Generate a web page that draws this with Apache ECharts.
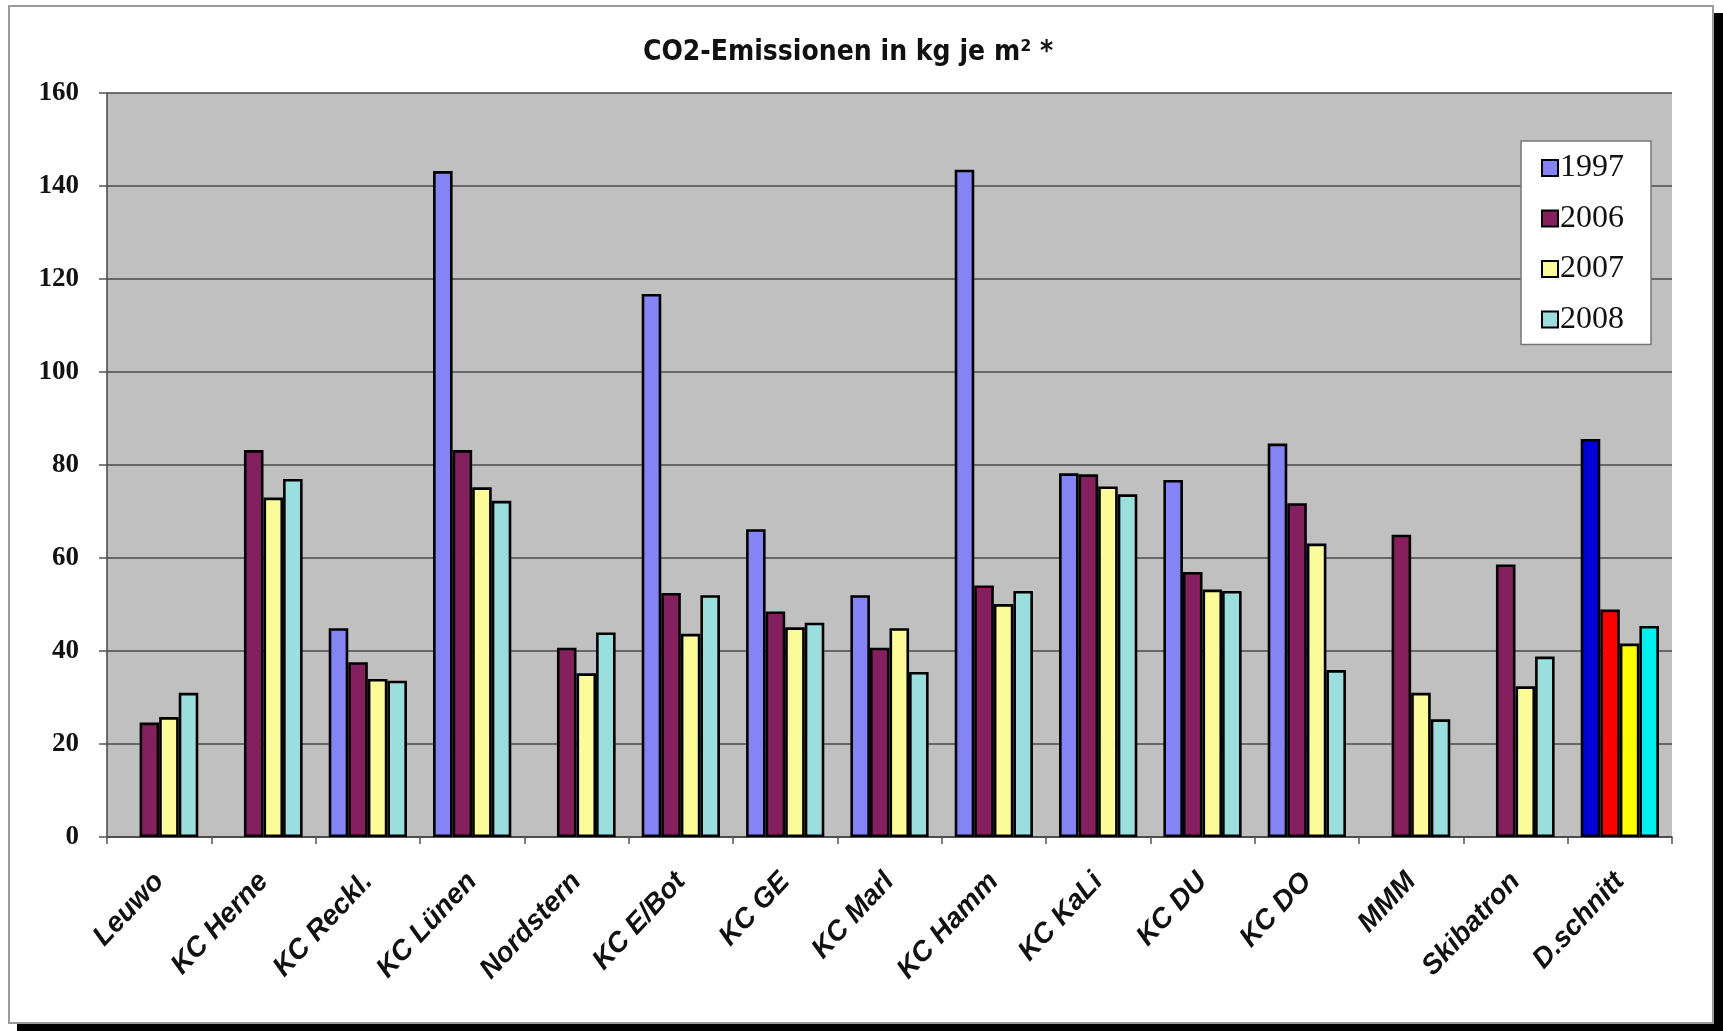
<!DOCTYPE html>
<html>
<head>
<meta charset="utf-8">
<script src="https://cdn.jsdelivr.net/npm/echarts@6/dist/echarts.min.js"></script>
<style>
html,body{margin:0;padding:0;background:#fff;}
#frame{position:absolute;left:8px;top:5px;width:1702px;height:1015px;background:#fff;border:2px solid #9a9a9a;box-shadow:9px 8px 0 #000;}
#chart{position:absolute;left:0;top:0;width:1723px;height:1031px;}
</style>
</head>
<body>
<div id="frame"></div>
<div id="chart"></div>
<script>
const categories = ['Leuwo','KC Herne','KC Reckl.','KC Lünen','Nordstern','KC E/Bot','KC GE','KC Marl','KC Hamm','KC KaLi','KC DU','KC DO','MMM','Skibatron','D.schnitt'];
const years = ['1997','2006','2007','2008'];
const v1997 = [null, null, 44.9, 143.2, null, 116.8, 66.2, 52.0, 143.5, 78.2, 76.8, 84.6, null, null, 85.6];
const v2006 = [24.6, 83.2, 37.6, 83.2, 40.7, 52.5, 48.5, 40.7, 54.1, 78.0, 57.0, 71.8, 65.0, 58.6, 48.9];
const v2007 = [25.8, 73.0, 34.0, 75.2, 35.2, 43.7, 45.1, 44.9, 50.1, 75.4, 53.2, 63.1, 31.0, 32.4, 41.6];
const v2008 = [31.0, 77.0, 33.6, 72.3, 44.0, 52.0, 46.1, 35.5, 52.9, 73.7, 52.9, 35.9, 25.3, 38.8, 45.4];
const yTicks = [0, 20, 40, 60, 80, 100, 120, 140, 160];

const seriesColors = ['#8484f4', '#85205e', '#fbfb9a', '#9adede'];
const highlightColors = ['#0000d8', '#ff0000', '#ffff00', '#00f0f0'];
const highlightCategory = 'D.schnitt';
const allValues = [v1997, v2006, v2007, v2008];

const chart = echarts.init(document.getElementById('chart'), null, {renderer: 'canvas'});

const series = years.map((y, si) => ({
  name: y,
  type: 'bar',
  barGap: '0%',
  barCategoryGap: '25%',
  itemStyle: {color: seriesColors[si], borderColor: '#000', borderWidth: 2.6},
  data: allValues[si].map((v, ci) => categories[ci] === highlightCategory
      ? {value: v, itemStyle: {color: highlightColors[si]}}
      : v)
}));

chart.setOption({
  backgroundColor: 'transparent',
  animation: false,
  title: {
    text: 'CO2-Emissionen in kg je m² *',
    left: 843,
    top: 34,
    textAlign: 'center',
    textStyle: {fontFamily: '"DejaVu Sans Condensed", "Liberation Sans Narrow", sans-serif', fontWeight: 'bold', fontSize: 28, color: '#111'}
  },
  legend: {
    orient: 'vertical',
    left: 1521,
    top: 141,
    padding: [11, 27, 9, 20],
    itemGap: 18.5,
    itemWidth: 16,
    itemHeight: 16,
    icon: 'rect',
    backgroundColor: '#fff',
    borderColor: '#777',
    borderWidth: 1.5,
    borderRadius: 0,
    textStyle: {fontFamily: '"Liberation Serif", serif', fontSize: 32, lineHeight: 30, height: 30, color: '#111', padding: [0, 0, 0, -3]},
    data: years
  },
  grid: {
    left: 107, right: 51, top: 93, bottom: 194,
    show: true, backgroundColor: '#c0c0c0', borderWidth: 0,
    containLabel: false
  },
  xAxis: {
    type: 'category',
    data: categories,
    axisLine: {lineStyle: {color: '#444', width: 1.5}},
    axisTick: {show: true, length: 7, lineStyle: {color: '#555', width: 1.5}},
    axisLabel: {
      rotate: 47, margin: 40, interval: 0,
      fontFamily: '"Liberation Sans", Arial, sans-serif', fontWeight: 'bold', fontStyle: 'italic',
      fontSize: 28, color: '#111'
    }
  },
  yAxis: {
    type: 'value', min: 0, max: 160, interval: 20,
    axisLine: {show: true, lineStyle: {color: '#444', width: 1.5}},
    axisTick: {show: true, length: 8, lineStyle: {color: '#555', width: 1.5}},
    splitLine: {lineStyle: {color: '#4a4a4a', width: 1.5}},
    axisLabel: {
      margin: 28,
      fontFamily: '"Liberation Serif", serif', fontWeight: 'bold', fontSize: 27, color: '#111',
      formatter: v => yTicks.includes(v) ? String(v) : ''
    }
  },
  series: series
});
</script>
</body>
</html>
